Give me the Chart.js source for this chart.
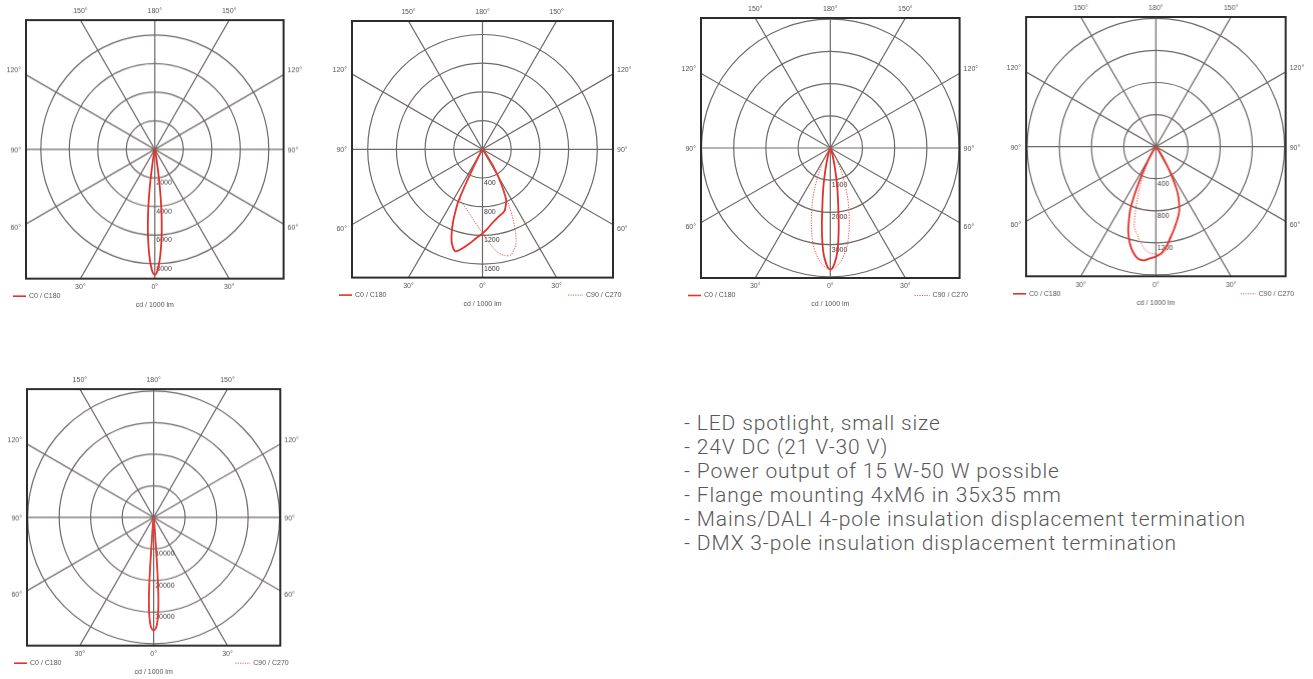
<!DOCTYPE html>
<html>
<head>
<meta charset="utf-8">
<script src="https://cdn.jsdelivr.net/npm/chart.js@4/dist/chart.umd.min.js"></script>
<style>
  html, body { margin: 0; padding: 0; background: #fff; }
  body { width: 1313px; height: 679px; overflow: hidden; position: relative; }
  .pc { position: absolute; }
  #info { position: absolute; left: 684px; top: 411px; font-family: Roboto, "Open Sans", sans-serif;
          font-size: 21px; line-height: 24px; letter-spacing: 0.85px; color: #585858; font-weight: 300; white-space: nowrap; }
</style>
</head>
<body>
<div id="info"></div>
<script>
// ---------------- DATA ----------------
const angleTicks = [0, 30, 60, 90, 120, 150, 180];
const legendC0 = "C0 / C180";
const legendC90 = "C90 / C270";
const unitLabel = "cd / 1000 lm";

// Chart 1 (top-left)
const c1_rings = [2000, 4000, 6000, 8000];
const c1_gamma = [0, 1, 2, 3, 4, 5, 6, 7, 8, 9, 10, 12, 15, 20, 30, 45, 90];
const c1_C0    = [8780, 8600, 8100, 7400, 6550, 5600, 4500, 3350, 2200, 1200, 650, 250, 100, 40, 0, 0, 0];
const c1_C180  = [8780, 8600, 8100, 7400, 6550, 5600, 4500, 3350, 2200, 1200, 650, 250, 100, 40, 0, 0, 0];

// Chart 2
const c2_rings = [400, 800, 1200, 1600];
const c2_gamma = [0, 4, 8, 12, 15, 18, 20, 22, 24, 25, 26, 27, 28, 30, 33, 36, 40, 50];
const c2_C0    = [1171, 1100, 1030, 980, 952, 930, 906, 860, 810, 780, 720, 650, 580, 440, 240, 100, 30, 0];
const c2_C180  = [1171, 1240, 1330, 1420, 1470, 1380, 1260, 1100, 900, 780, 500, 250, 150, 60, 15, 0, 0, 0];
const c2_C90   = [1171, 1300, 1440, 1515, 1525, 1450, 1370, 1220, 1020, 880, 750, 620, 540, 400, 200, 80, 25, 0];
const c2_C270  = [1171, 1061, 975, 905, 862, 830, 810, 790, 760, 700, 500, 250, 150, 60, 15, 0, 0, 0];

// Chart 3
const c3_rings = [1000, 2000, 3000, 4000];
const c3_gamma = [0, 2, 4, 6, 8, 10, 12, 14, 17, 20, 24, 27, 30, 35, 45, 60];
const c3_C0    = [3780, 3600, 3200, 2500, 1750, 1250, 800, 500, 250, 130, 60, 30, 10, 0, 0, 0];
const c3_C180  = [3780, 3600, 3200, 2500, 1750, 1250, 800, 500, 250, 130, 60, 30, 10, 0, 0, 0];
const c3_C90   = [3780, 3720, 3620, 3480, 3280, 3060, 2750, 2440, 1960, 1520, 950, 580, 320, 120, 20, 0];
const c3_C270  = [3780, 3720, 3620, 3480, 3280, 3060, 2750, 2440, 1960, 1520, 950, 580, 320, 120, 20, 0];

// Chart 4
const c4_rings = [400, 800, 1200, 1600];
const c4_gamma = [0, 3, 6, 9, 12, 15, 18, 20, 22, 24, 26, 28, 30, 33, 37, 45];
const c4_C0    = [1371, 1330, 1250, 1150, 1065, 980, 905, 850, 770, 690, 580, 430, 300, 150, 50, 0];
const c4_C180  = [1371, 1395, 1425, 1415, 1350, 1250, 1110, 980, 850, 640, 440, 280, 160, 80, 30, 0];
const c4_C90   = [1340, 1345, 1290, 1180, 1060, 980, 900, 850, 770, 690, 580, 430, 300, 150, 50, 0];
const c4_C270  = [1340, 1330, 1290, 1210, 1120, 1040, 800, 660, 520, 390, 250, 170, 100, 50, 15, 0];

// Chart 5 (bottom-left)
const c5_rings = [10000, 20000, 30000, 40000];
const c5_gamma = [0, 1, 1.5, 2, 2.5, 3, 3.5, 4, 4.5, 5, 6, 8, 12, 20];
const c5_C0    = [35800, 35200, 34500, 33200, 31300, 28500, 24500, 17000, 8000, 4800, 2500, 1000, 300, 0];
const c5_C180  = [35800, 35200, 34500, 33200, 31300, 28500, 24500, 17000, 8000, 4800, 2500, 1000, 300, 0];
const c5_C90   = [35800, 35200, 34500, 33200, 31300, 28500, 24500, 17000, 8000, 4800, 2500, 1000, 300, 0];
const c5_C270  = [35800, 35200, 34500, 33200, 31300, 28500, 24500, 17000, 8000, 4800, 2500, 1000, 300, 0];

const infoLines = [
  "- LED spotlight, small size",
  "- 24V DC (21 V-30 V)",
  "- Power output of 15 W-50 W possible",
  "- Flange mounting 4xM6 in 35x35 mm",
  "- Mains/DALI 4-pole insulation displacement termination",
  "- DMX 3-pole insulation displacement termination"
];

// ---------------- STYLE / LAYOUT ----------------
const RED = '#e3302a';
const RED_DOT = '#ec5750';
const GRID = '#6e6866';
const FRAME = '#2c2c2c';
const TXT = '#555555';
const SMALL_FONT = '7px "Liberation Sans", Arial, sans-serif';

const charts = [
  { id: 'c1', box: [25.7, 20, 257.6, 257.7], rOuter: 114, rings: c1_rings, gamma: c1_gamma,
    solid: [c1_C180, c1_C0], dotted: null },
  { id: 'c2', box: [352.3, 20.7, 261, 256.6], rOuter: 114.8, rings: c2_rings, gamma: c2_gamma,
    solid: [c2_C180, c2_C0], dotted: [c2_C270, c2_C90] },
  { id: 'c3', box: [700.7, 18.3, 258.6, 260], rOuter: 128.8, rings: c3_rings, gamma: c3_gamma,
    solid: [c3_C180, c3_C0], dotted: [c3_C270, c3_C90] },
  { id: 'c4', box: [1026, 16.7, 258.7, 259.3], rOuter: 128.3, rings: c4_rings, gamma: c4_gamma,
    solid: [c4_C180, c4_C0], dotted: [c4_C270, c4_C90] },
  { id: 'c5', box: [26.7, 389.3, 253.3, 255.7], rOuter: 126, rings: c5_rings, gamma: c5_gamma,
    solid: [c5_C180, c5_C0], dotted: [c5_C270, c5_C90] }
];

const PAD = { left: 30, top: 22, right: 30, bottom: 36 };

function loopPoints(gamma, left, right) {
  const pts = [];
  const rad = Math.PI / 180;
  for (let i = gamma.length - 1; i >= 0; i--) {
    const g = gamma[i] * rad;
    pts.push({ x: -left[i] * Math.sin(g), y: -left[i] * Math.cos(g) });
  }
  for (let i = 1; i < gamma.length; i++) {
    const g = gamma[i] * rad;
    pts.push({ x: right[i] * Math.sin(g), y: -right[i] * Math.cos(g) });
  }
  return pts;
}

const polarFrame = {
  id: 'polarFrame',
  beforeDatasetsDraw(chart, args, o) {
    const { ctx, chartArea: a, scales: { x, y } } = chart;
    const cx = x.getPixelForValue(0), cy = y.getPixelForValue(0);
    ctx.save();
    ctx.beginPath(); ctx.rect(a.left, a.top, a.right - a.left, a.bottom - a.top); ctx.clip();
    ctx.strokeStyle = GRID; ctx.lineWidth = 1.2;
    o.rings.forEach(v => {
      const r = x.getPixelForValue(v) - cx;
      ctx.beginPath(); ctx.arc(cx, cy, r, 0, Math.PI * 2); ctx.stroke();
    });
    for (let g = 0; g < 180; g += 30) {
      const t = g * Math.PI / 180, L = 400;
      ctx.beginPath();
      ctx.moveTo(cx - L * Math.sin(t), cy + L * Math.cos(t));
      ctx.lineTo(cx + L * Math.sin(t), cy - L * Math.cos(t));
      ctx.stroke();
    }
    // ring value labels
    ctx.fillStyle = '#3a3a3a'; ctx.font = SMALL_FONT; ctx.textAlign = 'left'; ctx.textBaseline = 'middle';
    o.rings.forEach(v => {
      const ly = y.getPixelForValue(-v) + 5;
      if (ly < a.bottom - 4) ctx.fillText(String(v), cx + 1.5, ly);
    });
    ctx.restore();
  },
  afterDatasetsDraw(chart, args, o) {
    const { ctx, chartArea: a, scales: { x, y } } = chart;
    const cx = x.getPixelForValue(0), cy = y.getPixelForValue(0);
    ctx.save();
    ctx.strokeStyle = FRAME; ctx.lineWidth = 2;
    ctx.strokeRect(a.left, a.top, a.right - a.left, a.bottom - a.top);
    ctx.fillStyle = TXT; ctx.font = SMALL_FONT; ctx.textBaseline = 'middle';
    const hw = (a.right - a.left) / 2, hh = (a.bottom - a.top) / 2;
    angleTicks.forEach(g => {
      const sides = (g === 0 || g === 180) ? [1] : [-1, 1];
      sides.forEach(s => {
        const t = g * Math.PI / 180;
        const dx = s * Math.sin(t), dy = Math.cos(t);
        const tx = Math.abs(dx) > 1e-6 ? hw / Math.abs(dx) : Infinity;
        const ty = Math.abs(dy) > 1e-6 ? hh / Math.abs(dy) : Infinity;
        const label = g + '°';
        if (ty <= tx) {
          const px = cx + ty * dx;
          ctx.textAlign = 'center';
          ctx.fillText(label, px, dy > 0 ? a.bottom + 8.5 : a.top - 9);
        } else {
          const py = cy + tx * dy + (Math.abs(dy) < 1e-6 ? 1 : 4 * Math.sign(dy));
          if (s < 0) { ctx.textAlign = 'right'; ctx.fillText(label, a.left - 5, py); }
          else { ctx.textAlign = 'left'; ctx.fillText(label, a.right + 4, py); }
        }
      });
    });
    // legend
    const ly = a.bottom + 17.5;
    ctx.strokeStyle = RED; ctx.lineWidth = 1.6; ctx.setLineDash([]);
    ctx.beginPath(); ctx.moveTo(a.left - 13, ly); ctx.lineTo(a.left, ly); ctx.stroke();
    ctx.textAlign = 'left'; ctx.fillText(legendC0, a.left + 3, ly);
    if (o.showC90) {
      ctx.strokeStyle = RED_DOT; ctx.lineWidth = 1; ctx.setLineDash([1.2, 1.2]);
      ctx.beginPath(); ctx.moveTo(a.right - 45, ly); ctx.lineTo(a.right - 30, ly); ctx.stroke();
      ctx.setLineDash([]);
      ctx.fillText(legendC90, a.right - 27, ly);
    }
    ctx.textAlign = 'center';
    ctx.fillText(unitLabel, cx, a.bottom + 26.5);
    ctx.restore();
  }
};

charts.forEach(c => {
  const [bl, bt, bw, bh] = c.box;
  const wrap = document.createElement('div');
  wrap.className = 'pc';
  const W = bw + PAD.left + PAD.right, H = bh + PAD.top + PAD.bottom;
  wrap.style.left = (bl - PAD.left) + 'px';
  wrap.style.top = (bt - PAD.top) + 'px';
  wrap.style.width = W + 'px';
  wrap.style.height = H + 'px';
  const cv = document.createElement('canvas');
  cv.id = c.id;
  cv.style.width = W + 'px'; cv.style.height = H + 'px';
  wrap.appendChild(cv);
  document.body.appendChild(wrap);

  const ringMax = c.rings[c.rings.length - 1];
  const xMax = ringMax * (bw / 2) / c.rOuter;
  const yMax = ringMax * (bh / 2) / c.rOuter;

  const datasets = [];
  if (c.dotted) {
    datasets.push({
      label: legendC90, data: loopPoints(c.gamma, c.dotted[0], c.dotted[1]),
      showLine: true, borderColor: RED_DOT, borderWidth: 1, borderDash: [1.3, 1.3],
      pointRadius: 0, tension: 0.3, fill: false
    });
  }
  datasets.push({
    label: legendC0, data: loopPoints(c.gamma, c.solid[0], c.solid[1]),
    showLine: true, borderColor: RED, borderWidth: 1.8,
    pointRadius: 0, tension: 0.3, fill: false
  });

  new Chart(cv, {
    type: 'scatter',
    data: { datasets },
    options: {
      responsive: true, maintainAspectRatio: false, animation: false,
      devicePixelRatio: 1,
      layout: { padding: PAD },
      scales: {
        x: { type: 'linear', min: -xMax, max: xMax, display: false },
        y: { type: 'linear', min: -yMax, max: yMax, display: false }
      },
      plugins: {
        legend: { display: false }, tooltip: { enabled: false },
        polarFrame: { rings: c.rings, showC90: !!c.dotted }
      }
    },
    plugins: [polarFrame]
  });
});

document.getElementById('info').innerHTML = infoLines.map(s => '<div>' + s + '</div>').join('');
</script>
</body>
</html>
